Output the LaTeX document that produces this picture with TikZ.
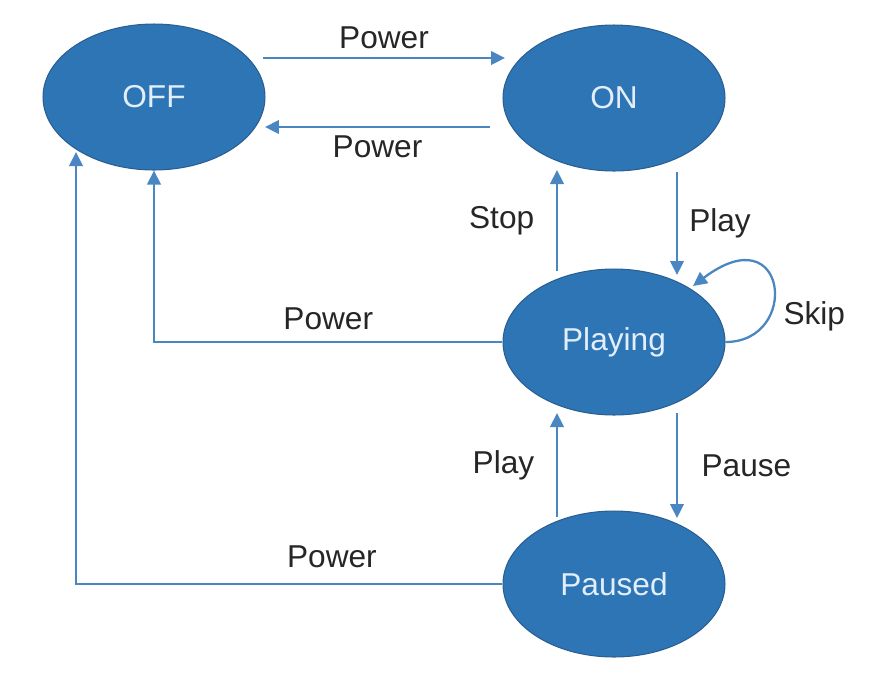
\documentclass[tikz,border=0pt]{standalone}
\usepackage{fontspec}
\setmainfont{Liberation Sans}
\usepackage{tikz}
\usetikzlibrary{arrows.meta, positioning, shapes.geometric, calc}

\definecolor{statefill}{HTML}{2E75B6}
\definecolor{statedraw}{HTML}{2A5E91}
\definecolor{statetext}{HTML}{E2EFFA}
\definecolor{linkblue}{HTML}{4A86C2}

\begin{document}
\begin{tikzpicture}[
    x=0.02cm, y=-0.02cm,
    >={Triangle[length=0.28cm, width=0.27cm]},
    font=\fontsize{18}{21}\selectfont,
    state/.style={draw=statedraw, ellipse, fill=statefill, line width=0.6pt,
        minimum width=4.44cm, minimum height=2.92cm, inner sep=0pt,
        text=statetext},
    arrow/.style={->, line width=1.3pt, draw=linkblue},
    lbl/.style={text=black!85},
]
\useasboundingbox (0,0) rectangle (876,674);

% === States ===
\node[state] (off) at (154,97) {OFF};
\node[state] (on) at (614,98) {ON};
\node[state] (playing) at (614,342) {Playing};
\node[state] (paused) at (614,584) {Paused};

% === OFF <-> ON ===
\draw[arrow] ($(off)+(109,-39)$) -- node[lbl, above=1pt] {Power} ($(on)+(-109,-40)$);
\draw[arrow] ($(on)+(-124,29)$) -- node[lbl, below=1pt] {Power} ($(off)+(111,30)$);

% === ON <-> Playing ===
\draw[arrow] ($(playing)+(-57,-71)$) -- node[lbl, left=9pt] {Stop} ($(on)+(-57,72)$);
\draw[arrow] ($(on)+(63,74)$) -- node[lbl, right=3pt] {Play} ($(playing)+(63,-67)$);

% === Skip (self loop) ===
\draw[arrow] (playing.east) .. controls +(75,0) and +(95,-72) ..
    node[lbl, right=4pt, pos=0.3] {Skip} ($(playing)+(79,-56)$);

% === Playing -> OFF ===
\draw[arrow] (playing.west) -| node[lbl, above=3pt, pos=0.25] {Power} (off.south);

% === Playing <-> Paused ===
\draw[arrow] ($(paused)+(-57,-67)$) -- node[lbl, left=9pt] {Play} ($(playing)+(-57,71)$);
\draw[arrow] ($(playing)+(63,71)$) -- node[lbl, right=10pt] {Pause} ($(paused)+(63,-66)$);

% === Paused -> OFF ===
\draw[arrow] (paused.west) -| node[lbl, above=5pt, pos=0.2] {Power} ($(off)+(-78,55)$);

\end{tikzpicture}
\end{document}
